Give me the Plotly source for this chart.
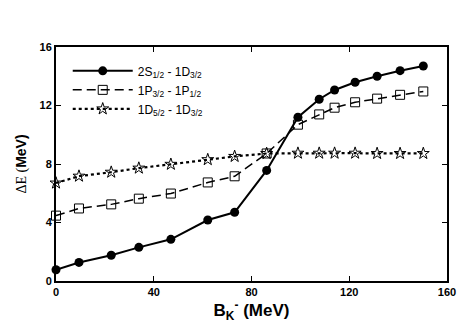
import plotly.graph_objects as go

# binding energy of the K- (MeV)
bk = [0, 9.4, 22.6, 33.9, 47, 62.1, 73.1, 86.2, 99, 107.7, 114, 122.4, 131.4, 140.8, 150.3]

# level spacings (MeV)
s_d = [0.77, 1.27, 1.76, 2.3, 2.85, 4.17, 4.7, 7.56, 11.2, 12.43, 13.06, 13.59, 14.0, 14.38, 14.7]
p_p = [4.47, 4.96, 5.24, 5.63, 5.98, 6.74, 7.16, 8.72, 10.69, 11.39, 11.85, 12.22, 12.47, 12.73, 12.96]
d_d = [6.7, 7.17, 7.44, 7.72, 7.98, 8.3, 8.52, 8.72, 8.74, 8.74, 8.74, 8.74, 8.72, 8.72, 8.72]

names = [
    "2S<sub>1/2</sub> - 1D<sub>3/2</sub>",
    "1P<sub>3/2</sub> - 1P<sub>1/2</sub>",
    "1D<sub>5/2</sub> - 1D<sub>3/2</sub>",
]

x_ticks = [0, 40, 80, 120, 160]
y_ticks = [0, 4, 8, 12, 16]

fig = go.Figure()
fig.add_trace(go.Scatter(
    x=bk, y=s_d, name=names[0], mode="lines+markers",
    line=dict(color="black", width=2),
    marker=dict(symbol="circle", size=9, color="black"),
    cliponaxis=False,
))
fig.add_trace(go.Scatter(
    x=bk, y=p_p, name=names[1], mode="lines+markers",
    line=dict(color="black", width=1.5, dash="9px,5px"),
    marker=dict(symbol="square-open", size=9, color="black", line=dict(width=1)),
    cliponaxis=False,
))
fig.add_trace(go.Scatter(
    x=bk, y=d_d, name=names[2], mode="lines+markers",
    line=dict(color="black", width=2.2, dash="dot"),
    marker=dict(symbol="star-open", size=9, color="black", line=dict(width=1)),
    cliponaxis=False,
))

axis_style = dict(
    showline=True, linecolor="black", linewidth=2, mirror="ticks",
    ticks="inside", ticklen=5, tickwidth=1.2, tickcolor="black",
    showgrid=False, zeroline=False,
    tickfont=dict(family="Liberation Sans, Arial", size=11, color="black"),
)

fig.update_xaxes(
    range=[0, 160], tickvals=x_ticks, ticktext=[f"<b>{t}</b>" for t in x_ticks],
    title=dict(text="<b>B<sub>K</sub><sup>-</sup> (MeV)</b>", standoff=5,
               font=dict(family="Liberation Sans, Arial", size=17, color="black")),
    **axis_style,
)
fig.update_yaxes(
    range=[0, 16], tickvals=y_ticks, ticktext=[f"<b>{t}</b>" for t in y_ticks],
    title=dict(text="<span style='font-family:Liberation Serif'>\u0394E (</span><b>MeV)</b>",
               standoff=10,
               font=dict(family="Liberation Sans, Arial", size=14, color="black")),
    **axis_style,
)

# the page body has an 8px margin, so the figure is shrunk to fit the window
fig.update_layout(
    width=461, height=319,
    margin=dict(l=44, r=22, t=39, b=42),
    plot_bgcolor="white", paper_bgcolor="white",
    legend=dict(
        x=0.03, y=0.96, xanchor="left", yanchor="top",
        bgcolor="rgba(0,0,0,0)", tracegroupgap=0,
        font=dict(family="Liberation Sans, Arial", size=12, color="black"),
        itemwidth=60,
    ),
)

fig.write_html("out.html")
